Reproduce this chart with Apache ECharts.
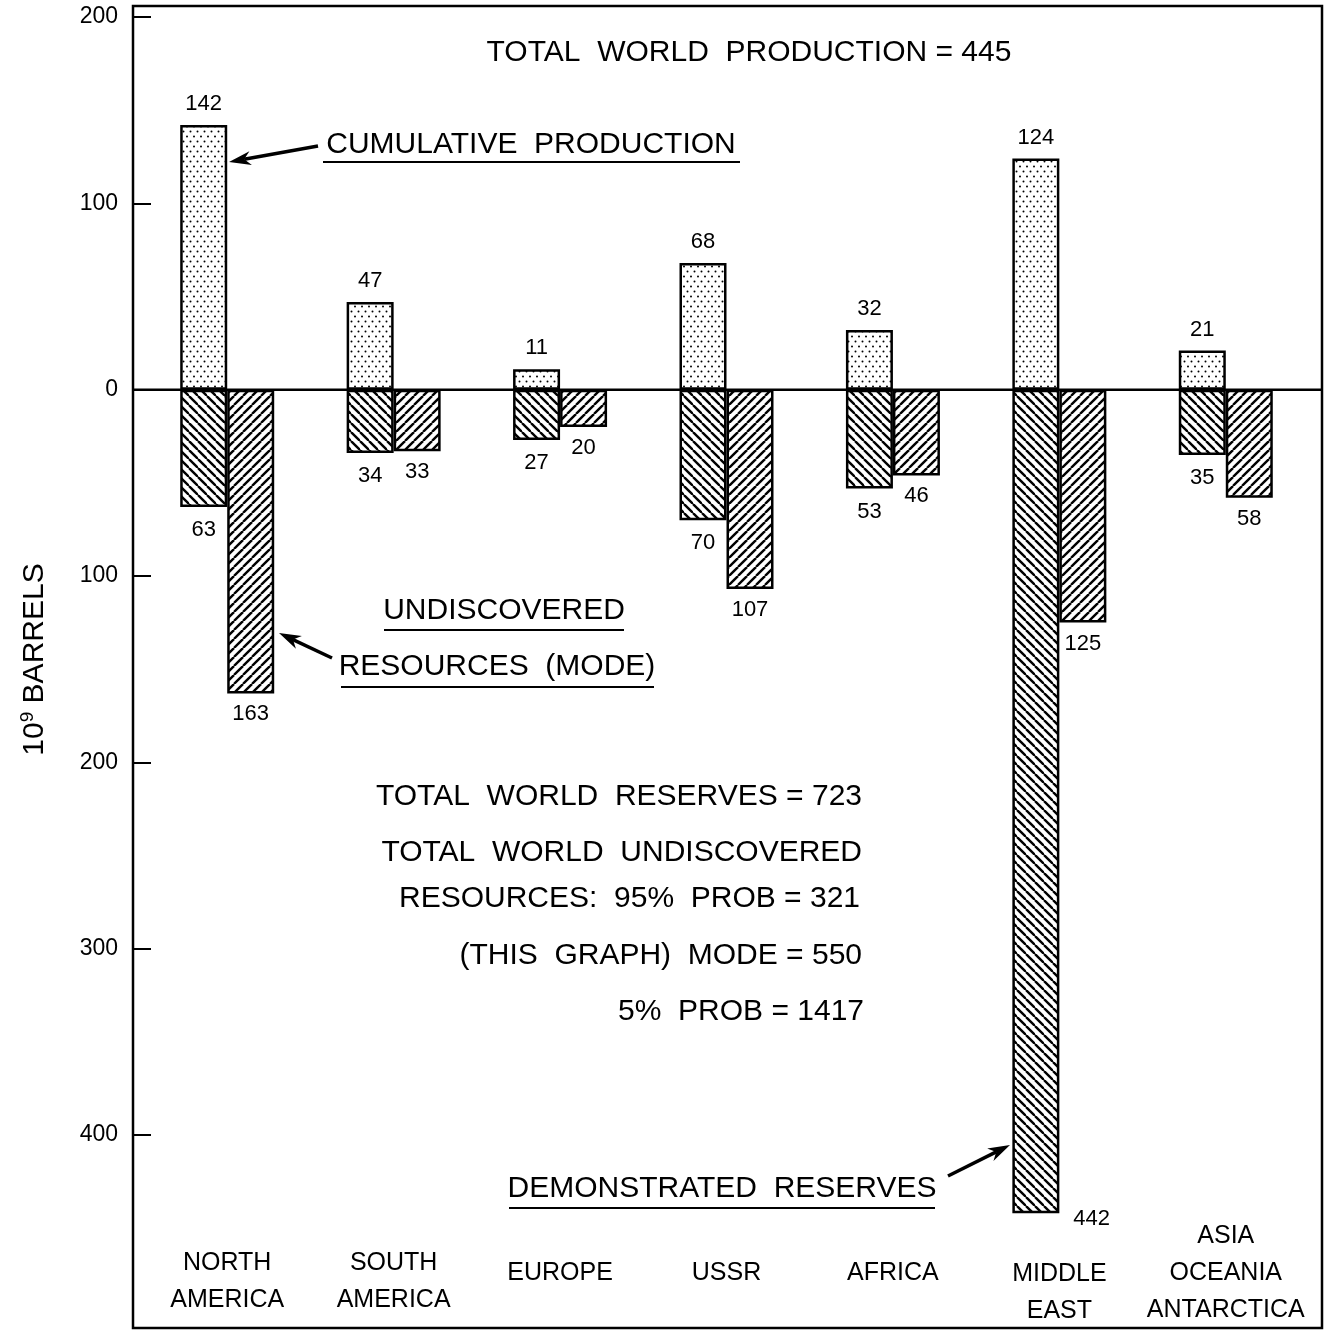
<!DOCTYPE html>
<html><head><meta charset="utf-8">
<script src="https://cdn.jsdelivr.net/npm/echarts@6/dist/echarts.min.js"></script>
<style>html,body{margin:0;padding:0;background:#fff}#c{width:1328px;height:1330px}</style>
</head><body><div id="c"></div>
<script>
// ---- data ----
const regions = ['NORTH\nAMERICA','SOUTH\nAMERICA','EUROPE','USSR','AFRICA','MIDDLE\nEAST','ASIA\nOCEANIA\nANTARCTICA'];
const cumulativeProduction = [142, 47, 11, 68, 32, 124, 21];
const demonstratedReserves = [63, 34, 27, 70, 53, 442, 35];
const undiscoveredMode = [163, 33, 20, 107, 46, 125, 58];
const yTickValues = [200, 100, 0, -100, -200, -300, -400];
const yMin = -503, yMax = 200;

const FONT = '"Liberation Sans", Arial, Helvetica, sans-serif';

function makeCanvas(w, h, draw) {
  const c = document.createElement('canvas');
  c.width = w; c.height = h;
  const g = c.getContext('2d');
  g.fillStyle = '#fff'; g.fillRect(0, 0, w, h);
  draw(g);
  return c;
}
const dotTile = makeCanvas(7, 10, g => {
  g.fillStyle = '#000';
  g.beginPath(); g.arc(1.5, 1.5, 1.0, 0, Math.PI * 2); g.fill();
  g.beginPath(); g.arc(5, 6.5, 1.0, 0, Math.PI * 2); g.fill();
});
function hatch(dir) {
  const s = 9;
  return makeCanvas(s, s, g => {
    g.strokeStyle = '#000'; g.lineWidth = 2.4;
    for (let k = -1; k <= 1; k++) {
      g.beginPath();
      if (dir === 'back') { g.moveTo(k * s, 0); g.lineTo(k * s + s, s); }
      else { g.moveTo(k * s, s); g.lineTo(k * s + s, 0); }
      g.stroke();
    }
  });
}
const backTile = hatch('back');
const fwdTile = hatch('fwd');

const labelStyle = { color: '#000', fontSize: 22, fontFamily: FONT };
const absFmt = p => String(Math.abs(p.value));

const reservesData = demonstratedReserves.map((v, i) => {
  if (i === 5) return { value: -v, label: { position: ['100%', '100%'], offset: [14, 6], align: 'left', verticalAlign: 'middle' } };
  return -v;
});

// vertical spacer tokens so each category label sits where it does in the original
function catLabel(value, index) {
  if (index === 5) return '{g40|}\n' + value;
  if (index === 0 || index === 1) return '{g18|}\n' + value;
  return value;
}

const chart = echarts.init(document.getElementById('c'), null, { renderer: 'canvas' });

const option = {
  animation: false,
  backgroundColor: '#fff',
  grid: { left: 144, right: 19, top: 17, bottom: 2, containLabel: false },
  xAxis: {
    type: 'category',
    data: regions,
    axisLine: { show: false, onZero: false },
    axisTick: { show: false },
    axisLabel: {
      inside: true, margin: 54, interval: 0, verticalAlign: 'middle',
      color: '#000', fontSize: 25, lineHeight: 37, fontFamily: FONT,
      formatter: catLabel,
      rich: {
        g18: { lineHeight: 18, fontSize: 1, height: 18 },
        g40: { lineHeight: 40, fontSize: 1, height: 40 }
      }
    }
  },
  yAxis: {
    type: 'value', min: yMin, max: yMax, offset: 11,
    name: '   10{sup|9} BARRELS', nameLocation: 'middle', nameRotate: 90, nameGap: 82,
    nameTextStyle: {
      color: '#000', fontSize: 30, fontFamily: FONT,
      rich: { sup: { fontSize: 19, color: '#000', fontFamily: FONT, padding: [0, 0, 14, 0] } }
    },
    axisLine: { show: false },
    splitLine: { show: false },
    axisTick: { show: true, inside: true, length: 18, lineStyle: { color: '#000', width: 2 }, customValues: yTickValues },
    axisLabel: { color: '#000', fontSize: 23, fontFamily: FONT, margin: 15, customValues: yTickValues, formatter: v => String(Math.abs(v)) }
  },
  series: [
    {
      name: 'Cumulative production', type: 'bar', stack: 'left', barWidth: 47, barGap: '0%',
      data: cumulativeProduction,
      itemStyle: { color: { image: dotTile, repeat: 'repeat' }, borderColor: '#000', borderWidth: 2.5 },
      label: Object.assign({ show: true, position: 'top', distance: 10, formatter: absFmt }, labelStyle)
    },
    {
      name: 'Demonstrated reserves', type: 'bar', stack: 'left', barWidth: 47, barGap: '0%',
      data: reservesData,
      itemStyle: { color: { image: backTile, repeat: 'repeat' }, borderColor: '#000', borderWidth: 2.5 },
      label: Object.assign({ show: true, position: 'bottom', distance: 12, formatter: absFmt }, labelStyle)
    },
    {
      name: 'Undiscovered resources (mode)', type: 'bar', stack: 'right', barWidth: 47, barGap: '0%',
      data: undiscoveredMode.map(v => -v),
      itemStyle: { color: { image: fwdTile, repeat: 'repeat' }, borderColor: '#000', borderWidth: 2.5 },
      label: Object.assign({ show: true, position: 'bottom', distance: 10, formatter: absFmt }, labelStyle)
    }
  ]
};
chart.setOption(option);

// ---- annotations ----
function txt(x, y, text, align, size) {
  return { type: 'text', x: x, y: y, z: 50,
    style: { text: text, fill: '#000', fontSize: size || 30, fontFamily: FONT, align: align || 'center', verticalAlign: 'middle' } };
}
function hline(x1, x2, y, w) {
  return { type: 'line', z: 50, shape: { x1: x1, y1: y, x2: x2, y2: y }, style: { stroke: '#000', lineWidth: w || 2 } };
}
function arrow(x1, y1, x2, y2) {
  const dx = x2 - x1, dy = y2 - y1, L = Math.hypot(dx, dy);
  const ux = dx / L, uy = dy / L, px = -uy, py = ux;
  const hl = 22, hw = 7;
  const bx = x2 - ux * hl, by = y2 - uy * hl;
  const nx = x2 - ux * hl * 0.7, ny = y2 - uy * hl * 0.7;
  return [
    { type: 'line', z: 50, shape: { x1: x1, y1: y1, x2: nx, y2: ny }, style: { stroke: '#000', lineWidth: 3.5 } },
    { type: 'polygon', z: 50, shape: { points: [[x2, y2], [bx + px * hw, by + py * hw], [nx, ny], [bx - px * hw, by - py * hw]] }, style: { fill: '#000' } }
  ];
}

const zeroY = chart.convertToPixel({ yAxisIndex: 0 }, 0);
const graphics = [
  { type: 'rect', z: 40, shape: { x: 133, y: 6, width: 1189, height: 1322 }, style: { fill: 'none', stroke: '#000', lineWidth: 2.5 } },
  { type: 'line', z: 40, shape: { x1: 133, y1: zeroY, x2: 1322, y2: zeroY }, style: { stroke: '#000', lineWidth: 2.5 } },
  txt(749, 53, 'TOTAL  WORLD  PRODUCTION = 445'),
  txt(531, 145, 'CUMULATIVE  PRODUCTION'),
  hline(323, 740, 162),
  txt(504, 611, 'UNDISCOVERED'),
  hline(384, 624, 630),
  txt(497, 667, 'RESOURCES  (MODE)'),
  hline(341, 654, 687),
  txt(722, 1189, 'DEMONSTRATED  RESERVES'),
  hline(509, 935, 1208),
  txt(862, 797, 'TOTAL  WORLD  RESERVES = 723', 'right'),
  txt(862, 853, 'TOTAL  WORLD  UNDISCOVERED', 'right'),
  txt(860, 899, 'RESOURCES:  95%  PROB = 321', 'right'),
  txt(862, 956, '(THIS  GRAPH)  MODE = 550', 'right'),
  txt(864, 1012, '5%  PROB = 1417', 'right')
].concat(arrow(318, 146, 229, 162), arrow(332, 658, 279, 633), arrow(948, 1176, 1010, 1145));

chart.setOption({ graphic: { elements: graphics } });
</script>
</body></html>
